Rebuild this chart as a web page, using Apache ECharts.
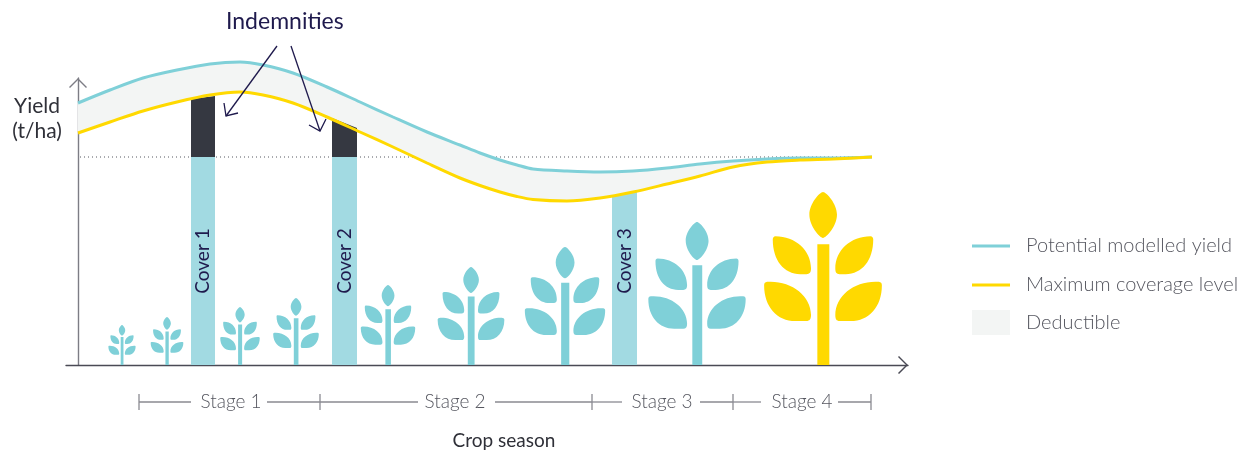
<!DOCTYPE html>
<html><head><meta charset="utf-8">
<style>html,body{margin:0;padding:0;background:#fff}#c{width:1244px;height:450px}</style>
<script src="https://cdn.jsdelivr.net/npm/echarts@6/dist/echarts.min.js"></script>
</head><body><div id="c"></div>
<script>
// Season position and yield height (chart units)
const seasonX    = [0,32,65,99,132,162,185,215,249,282,315,349,382,402,422,439,455,489,522,555,589,622,655,689,722,755,794];
const potential  = [262,275,287,295,301,303,300,292,278,263,248,233,220,212,205,200,196,194,193,194,197,201,204,206,207,207,208];
const coverage   = [232,243,254,263,270,273,270,262,248,233,218,202,187,179.5,173,168.5,165.5,164,167,173,181,189,198,203,205,206,208];
const deductible = 208;
// Cover bars: start, end, left top, right top
const coverNames = ['Cover 1','Cover 2','Cover 3'];
const coverStart = [113,254,534];
const coverEnd   = [137,279,559];
const coverTopL  = [266,247,169];
const coverTopR  = [269,237,173];
const coverLevel = [208,208,null];
// Plants: position, height, colour group
const plantX      = [44,89,162,218,310,393,487,619,745];
const plantHeight = [40,48,58,67,80,98,118,143,173];
const plantRipe   = [0,0,0,0,0,0,0,0,1];
// Stages
const stageNames = ['Stage 1','Stage 2','Stage 3','Stage 4'];
const stageEdges = [61,242,514,655,793];
const stageMid   = [153,377,584,724];
const stageGapL  = [113,340,544,683];
const stageGapR  = [189,417,622,760];
// Indemnity arrows: from, to, wings
const arrows = [
  [[199,319],[148,249],[146,262],[160,252]],
  [[213,319],[242,234],[231,240],[248,246]]
];

const C = {teal:'#7fd0d8', barLight:'#a2dae2', dark:'#353841', yellow:'#ffd900', band:'#f3f5f4', navy:'#1f1a4d', grey:'#55565f', axisY:'#7d7d85', axisX:'#4a4a55'};
const FONT = 'Lato';
const plantPath = 'M248 65C258 65 290 100 290 133C290 168 258 203 248 203C238 203 207 168 207 133C207 100 238 65 248 65Z'
 +'M231 222H267V585H231Z'
 +'M105 198C165 198 212 240 212 295C212 306 208 312 198 312H180C130 312 97 270 97 208C97 202 100 198 105 198Z'
 +'M391 198C331 198 285 240 285 295C285 306 288 312 298 312H316C366 312 399 270 399 208C399 202 396 198 391 198Z'
 +'M80 335C150 330 212 375 212 435C212 447 208 453 198 453H165C110 453 71 410 71 345C71 339 74 336 80 335Z'
 +'M416 335C346 330 285 375 285 435C285 447 288 453 298 453H331C386 453 425 410 425 345C425 339 422 336 416 335Z';
const chevron = 'path://M0,9L9,0L18,9L17,10L9,2L1,10Z';
const legendText = {fontFamily:FONT,fontWeight:300,fontSize:20,color:C.grey,padding:[0,0,0,11]};

const option = {
  animation:false,
  backgroundColor:'#fff',
  textStyle:{fontFamily:FONT},
  title:{text:'Indemnities',left:226,top:10,padding:0,textStyle:{fontFamily:FONT,fontWeight:'normal',fontSize:23,color:C.navy}},
  legend:[
    {data:['Potential modelled yield'],left:972,top:236,padding:0,itemWidth:38,itemHeight:3,icon:'rect',textStyle:legendText},
    {data:['Maximum coverage level'],left:972,top:275,padding:0,itemWidth:38,itemHeight:3,icon:'rect',textStyle:legendText},
    {data:['Deductible'],left:972,top:310,padding:0,itemWidth:38,itemHeight:25,icon:'rect',textStyle:legendText}
  ],
  grid:{left:66,top:78,width:842,height:287,outerBoundsMode:'none'},
  xAxis:{type:'value',min:-12,max:830,name:'Crop season',nameLocation:'middle',nameGap:66,
    nameTextStyle:{fontFamily:FONT,fontSize:19,color:'#2f3038',padding:[0,0,0,34]},
    axisLine:{show:true,lineStyle:{color:C.axisX,width:1.4},symbol:['none',chevron],symbolSize:[18,10],symbolOffset:[0,-5]},
    axisTick:{show:false},axisLabel:{show:false},splitLine:{show:false}},
  yAxis:{type:'value',min:0,max:287,name:'Yield\n(t/ha)',nameLocation:'end',nameRotate:0,nameGap:-66,
    nameTextStyle:{fontFamily:FONT,fontSize:21,color:'#2f3038',align:'center',lineHeight:25,padding:[0,82,0,0]},
    axisLine:{show:true,onZero:true,lineStyle:{color:C.axisY,width:1.4},symbol:['none',chevron],symbolSize:[18,10],symbolOffset:[0,-5]},
    axisTick:{show:false},axisLabel:{show:false},splitLine:{show:false}},
  series:[
    {type:'line',name:'Deductible level',z:1,silent:true,symbol:'none',clip:false,
      data:[[2,deductible],[seasonX[seasonX.length-1],deductible]],
      lineStyle:{color:'#55565f',width:1,type:[1,3]}},
    {type:'custom',name:'Deductible',z:2,silent:true,clip:false,itemStyle:{color:C.band},data:[0],
      renderItem(p,api){
        const top=seasonX.map((x,i)=>api.coord([x,potential[i]]));
        const bot=seasonX.map((x,i)=>api.coord([x,coverage[i]])).reverse();
        return {type:'polygon',shape:{points:top.concat(bot)},style:{fill:C.band}};
      }},
    {type:'custom',name:'Cover bars',z:3,silent:true,clip:false,
      data:coverNames.map((n,i)=>i),
      renderItem(p,api){
        const i=api.value(0), x0=coverStart[i], x1=coverEnd[i], lvl=coverLevel[i];
        const poly=(y0L,y0R,yL,yR,fill)=>({type:'polygon',shape:{points:[api.coord([x0,y0L]),api.coord([x1,y0R]),api.coord([x1,yR]),api.coord([x0,yL])]},style:{fill}});
        const kids=[];
        if(lvl===null){ kids.push(poly(0,0,coverTopL[i],coverTopR[i],C.barLight)); }
        else { kids.push(poly(0,0,lvl,lvl,C.barLight)); kids.push(poly(lvl,lvl,coverTopL[i],coverTopR[i],C.dark)); }
        const c=api.coord([(x0+x1)/2,104]);
        kids.push({type:'text',x:c[0],y:c[1],rotation:Math.PI/2,style:{text:coverNames[i],fontFamily:FONT,fontSize:19,fill:C.navy,align:'center',verticalAlign:'middle'}});
        return {type:'group',children:kids};
      }},
    {type:'line',name:'Potential modelled yield',z:4,silent:true,symbol:'none',smooth:0.3,clip:false,
      data:seasonX.map((x,i)=>[x,potential[i]]),itemStyle:{color:C.teal},lineStyle:{color:C.teal,width:3}},
    {type:'line',name:'Maximum coverage level',z:5,silent:true,symbol:'none',smooth:0.3,clip:false,
      data:seasonX.map((x,i)=>[x,coverage[i]]),itemStyle:{color:C.yellow},lineStyle:{color:C.yellow,width:3}},
    {type:'custom',name:'Plants',z:6,silent:true,clip:false,
      data:plantX.map((x,i)=>[x,plantHeight[i],plantRipe[i]]),
      renderItem(p,api){
        const b=api.coord([api.value(0),0]), t=api.coord([api.value(0),api.value(1)]);
        const h=b[1]-t[1], w=h*354/520;
        return {type:'path',shape:{pathData:plantPath,layout:'cover',x:b[0]-w/2,y:t[1],width:w,height:h},
          style:{fill:api.value(2)?C.yellow:C.teal}};
      }},
    {type:'custom',name:'Stages',z:6,silent:true,clip:false,
      data:stageNames.map((n,i)=>i),
      renderItem(p,api){
        const i=api.value(0), y=-37;
        const seg=(a,b,c,d)=>({type:'line',shape:{x1:api.coord([a,b])[0],y1:api.coord([a,b])[1],x2:api.coord([c,d])[0],y2:api.coord([c,d])[1]},style:{stroke:'#8a8a91',lineWidth:1.3}});
        const m=api.coord([stageMid[i],y]);
        const kids=[seg(stageEdges[i],y,stageGapL[i],y),seg(stageGapR[i],y,stageEdges[i+1],y),seg(stageEdges[i],y-8,stageEdges[i],y+8)];
        if(i===stageNames.length-1) kids.push(seg(stageEdges[i+1],y-8,stageEdges[i+1],y+8));
        kids.push({type:'text',x:m[0],y:m[1],style:{text:stageNames[i],fontFamily:FONT,fontWeight:300,fontSize:19,fill:C.grey,align:'center',verticalAlign:'middle'}});
        return {type:'group',children:kids};
      }},
    {type:'custom',name:'Indemnity arrows',z:7,silent:true,clip:false,
      data:arrows.map((a,i)=>i),
      renderItem(p,api){
        const a=arrows[api.value(0)].map(q=>api.coord(q));
        const st={stroke:C.navy,lineWidth:1.3,fill:null};
        return {type:'group',children:[
          {type:'polyline',shape:{points:[a[0],a[1]]},style:st},
          {type:'polyline',shape:{points:[a[2],a[1],a[3]]},style:st}
        ]};
      }}
  ]
};
echarts.init(document.getElementById('c'),null,{renderer:'canvas'}).setOption(option);
</script></body></html>
